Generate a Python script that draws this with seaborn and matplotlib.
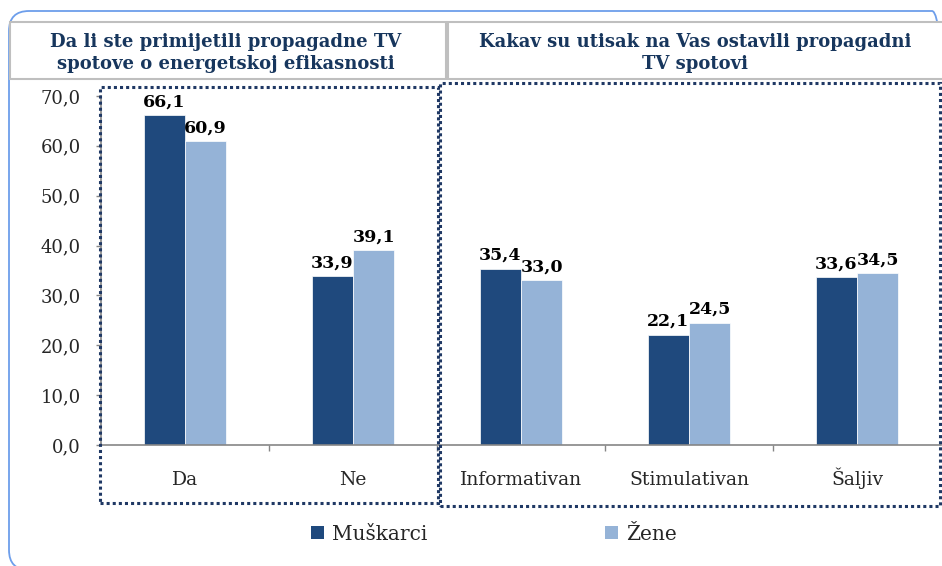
import pandas as pd
import seaborn as sns
import matplotlib.pyplot as plt
from matplotlib.patches import Rectangle, FancyBboxPatch, Patch

# data
kategorije = ["Da", "Ne", "Informativan", "Stimulativan", "Šaljiv"]
muskarci = [66.1, 33.9, 35.4, 22.1, 33.6]
zene = [60.9, 39.1, 33.0, 24.5, 34.5]
serije = ["Muškarci", "Žene"]
naslov_1 = "Da li ste primijetili propagadne TV\nspotove o energetskoj efikasnosti"
naslov_2 = "Kakav su utisak na Vas ostavili propagadni\nTV spotovi"

boje = ["#1F497D", "#95B3D7"]
navy = "#1F3864"

df = pd.DataFrame({
    "kategorija": kategorije * 2,
    "vrijednost": muskarci + zene,
    "pol": [serije[0]] * len(kategorije) + [serije[1]] * len(kategorije),
})

sns.set_theme(style="white")
plt.rcParams["font.family"] = ["DejaVu Serif", "DejaVu Sans"]

W, H = 942, 566
fig = plt.figure(figsize=(W / 100, H / 100), dpi=100)
ax = fig.add_axes([101 / W, (H - 445) / H, 840 / W, 349 / H])

sns.barplot(data=df, x="kategorija", y="vrijednost", hue="pol", palette=boje,
            width=0.49, gap=0, saturation=1, legend=False, linewidth=0.5, ax=ax)

ax.set_xlim(-0.5, len(kategorije) - 0.5)
ax.set_ylim(0, 70)
ax.set_yticks(range(0, 71, 10))
ax.set_yticklabels([f"{v:.1f}".replace(".", ",") for v in range(0, 71, 10)], fontsize=13)
ax.set_xticks(range(len(kategorije)))
ax.set_xticklabels(kategorije, fontsize=13.5)
for lab in ax.get_xticklabels():
    lab.set_va("baseline")
ax.set_xticks([i + 0.5 for i in range(len(kategorije) - 1)], minor=True)
ax.tick_params(axis="x", which="major", length=0, pad=28.5)
ax.tick_params(axis="x", which="minor", length=4.5, width=1, color="#868686", direction="out", bottom=True)
ax.tick_params(axis="y", length=3.6, width=1, color="#868686", direction="out", left=True, pad=11)
ax.set_xlabel("")
ax.set_ylabel("")
for s in ["top", "right"]:
    ax.spines[s].set_visible(False)
for s in ["left", "bottom"]:
    ax.spines[s].set_color("#868686")
    ax.spines[s].set_linewidth(1.2)

for cont, vals in zip(ax.containers, [muskarci, zene]):
    ax.bar_label(cont, labels=[f"{v:.1f}".replace(".", ",") for v in vals],
                 padding=3.5, fontsize=12.5, fontweight="bold", color="black")


def px(x, y):
    return (x / 100, (H - y) / 100)


tr = fig.dpi_scale_trans

# outer rounded frame (runs off the right and bottom edges)
fig.add_artist(FancyBboxPatch(px(9, 570), (952 - 9) / 100, (570 - 11) / 100,
                              boxstyle="round,pad=0,rounding_size=0.2",
                              transform=tr, fill=False, edgecolor="#6D9EEB", lw=1.3, zorder=1))

# header boxes
fig.add_artist(Rectangle(px(10, 79), (446 - 10) / 100, (79 - 22) / 100, transform=tr,
                         facecolor="white", edgecolor="#BFBFBF", lw=1.5, zorder=2))
fig.add_artist(Rectangle(px(448, 79), (960 - 448) / 100, (79 - 22) / 100, transform=tr,
                         facecolor="white", edgecolor="#BFBFBF", lw=1.5, zorder=2))
fig.text(*px(226, 53), naslov_1, transform=tr, ha="center", va="center",
         fontsize=13, fontweight="bold", color="#17365D", linespacing=1.25, zorder=3)
fig.text(*px(695, 53), naslov_2, transform=tr, ha="center", va="center",
         fontsize=13, fontweight="bold", color="#17365D", linespacing=1.25, zorder=3)

# dotted group boxes
fig.add_artist(Rectangle(px(100, 503), (438 - 100) / 100, (503 - 87) / 100, transform=tr,
                         fill=False, edgecolor=navy, lw=2.2, linestyle=(0, (1, 1)), zorder=5))
fig.add_artist(Rectangle(px(440, 506), (940 - 440) / 100, (506 - 83) / 100, transform=tr,
                         fill=False, edgecolor=navy, lw=2.2, linestyle=(0, (1, 1)), zorder=5))

handles = [Patch(facecolor=c, edgecolor="none") for c in boje]
fig.legend(handles, serije, loc="center", bbox_to_anchor=(494 / W, (H - 534) / H),
           ncol=2, frameon=False, fontsize=14.5, handlelength=0.65, handleheight=0.65,
           handletextpad=0.4, columnspacing=8.8)

fig.savefig("out.png", dpi=100)
